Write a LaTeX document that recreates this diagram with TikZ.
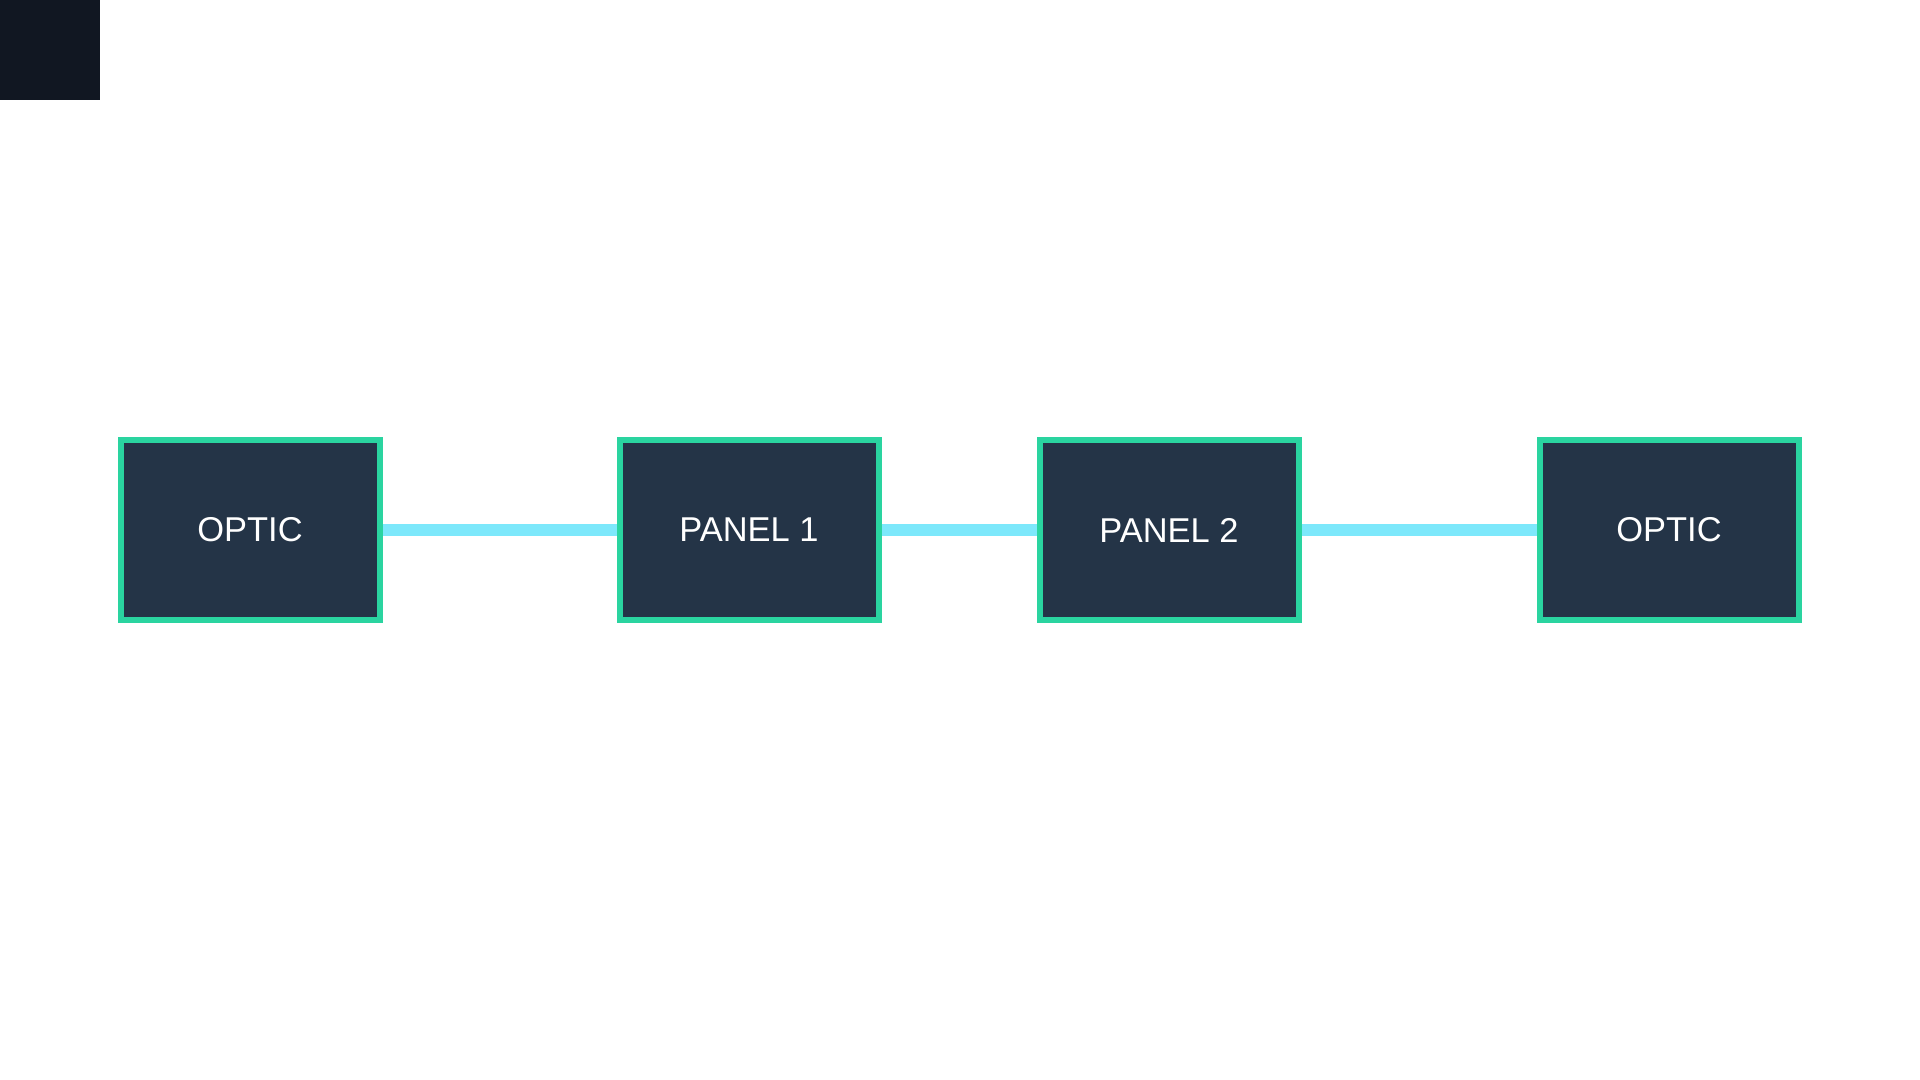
\documentclass[tikz,border=0pt]{standalone}
\usepackage{fontspec}
\setmainfont{Liberation Sans}
\definecolor{cCorner}{HTML}{111722}
\definecolor{cBoxFill}{HTML}{243447}
\definecolor{cBoxEdge}{HTML}{2AD4A0}
\definecolor{cLink}{HTML}{7DE8FB}
\begin{document}
\begin{tikzpicture}[
        unitbox/.style = { shape=rectangle, fill = cBoxFill, draw = cBoxEdge, line width = 0.6mm, minimum width = 2.59cm, minimum height = 1.80cm, inner sep = 0pt, text = white, font = \fontsize{9.8}{12}\selectfont },
        fibre/.style = { draw = cLink, line width = 1.2mm }
    ]
            \useasboundingbox [ fill = white ] (0,0) rectangle (19.2,-10.8);
            \fill [ cCorner ] (0,0) rectangle (1.0,-1.0);
            \node (nOpticLeft) [ unitbox ] at (2.5,-5.3) {OPTIC};
            \node (nPanelOne) [ right of = nOpticLeft, node distance = 4.99cm, unitbox ] {PANEL 1};
            \node (nPanelTwo) [ right of = nPanelOne, node distance = 4.2cm, unitbox ] {PANEL 2};
            \node (nOpticRight) [ right of = nPanelTwo, node distance = 5.0cm, unitbox ] {OPTIC};
            \draw [ fibre ] (nOpticLeft.east) -- (nPanelOne.west);
            \draw [ fibre ] (nPanelOne.east) -- (nPanelTwo.west);
            \draw [ fibre ] (nPanelTwo.east) -- (nOpticRight.west);
        \end{tikzpicture}
\end{document}
